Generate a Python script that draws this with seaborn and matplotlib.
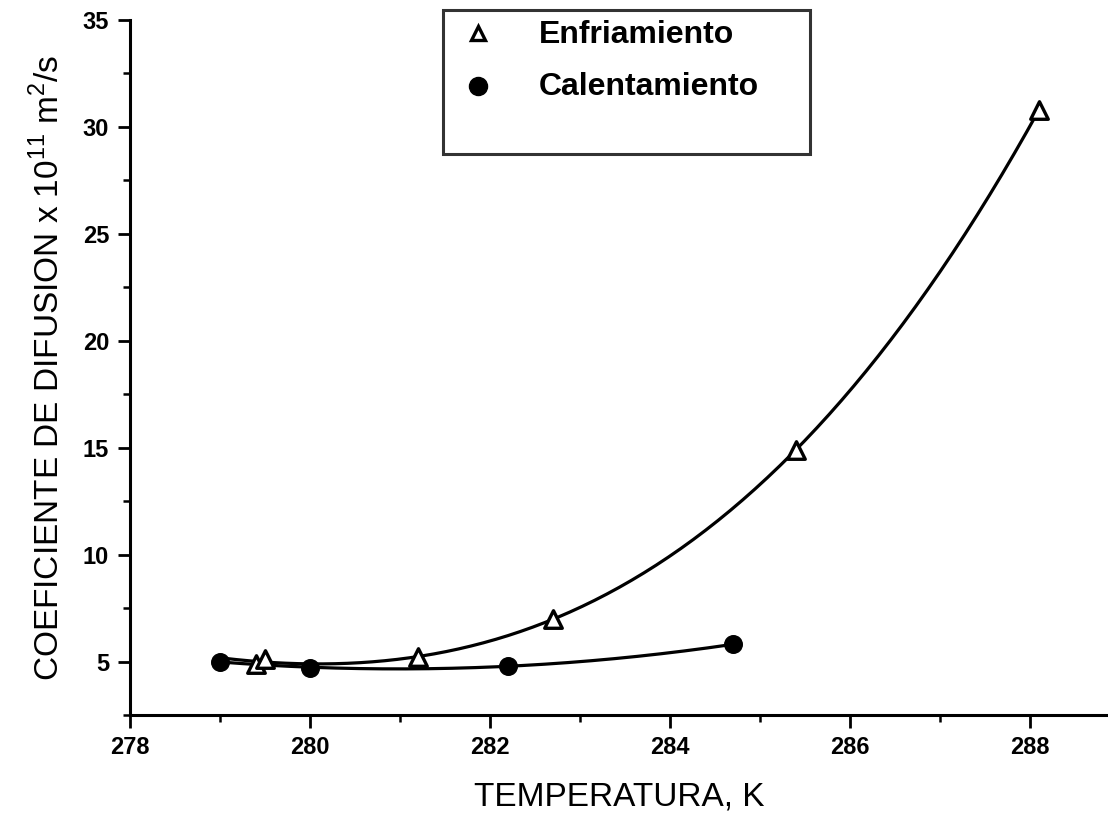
import numpy as np
import pandas as pd
import matplotlib
matplotlib.use('Agg')
import matplotlib.pyplot as plt
import seaborn as sns
from matplotlib.ticker import MultipleLocator
from matplotlib.lines import Line2D

# Enfriamiento (cooling) points
enf_temp = [279.4, 279.5, 281.2, 282.7, 285.4, 288.1]
enf_coef = [4.9, 5.1, 5.2, 7.0, 14.9, 30.8]

# Calentamiento (heating) points
cal_temp = [279.0, 280.0, 282.2, 284.7]
cal_coef = [5.0, 4.7, 4.8, 5.8]

sns.set_style('ticks')
plt.rcParams['font.family'] = ['Liberation Sans', 'DejaVu Sans']
plt.rcParams['text.color'] = 'black'
plt.rcParams['axes.labelcolor'] = 'black'
plt.rcParams['mathtext.fontset'] = 'custom'
plt.rcParams['mathtext.rm'] = 'Liberation Sans'

fig = plt.figure(figsize=(11.08, 8.26), dpi=100)
ax = fig.add_axes([130 / 1108, 1 - 715 / 826, 1 - 130 / 1108, (715 - 20) / 826])

# smooth fitted curves through the measured points
enf_fit = np.polyfit(enf_temp, enf_coef, 3)
xs_enf = np.linspace(279.0, 288.1, 200)
cal_fit = np.polyfit(cal_temp, cal_coef, 2)
xs_cal = np.linspace(279.0, 284.7, 200)

curves = pd.concat([
    pd.DataFrame({'T': xs_enf, 'D': np.polyval(enf_fit, xs_enf), 'serie': 'Enfriamiento'}),
    pd.DataFrame({'T': xs_cal, 'D': np.polyval(cal_fit, xs_cal), 'serie': 'Calentamiento'}),
])
sns.lineplot(data=curves, x='T', y='D', units='serie', estimator=None,
             color='black', linewidth=2.3, ax=ax, legend=False)

sns.scatterplot(x=cal_temp, y=cal_coef, marker='o', s=160, color='black',
                edgecolor='black', ax=ax, zorder=4)
sns.scatterplot(x=enf_temp, y=enf_coef, marker='^', s=160, facecolor='white',
                edgecolor='black', linewidth=2.4, ax=ax, zorder=5)

ax.set_xlim(278, 278 + 978 / 90)
ax.set_ylim(2.5, 35)
ax.xaxis.set_major_locator(MultipleLocator(2))
ax.xaxis.set_minor_locator(MultipleLocator(1))
ax.yaxis.set_minor_locator(MultipleLocator(2.5))
ax.set_yticks([5, 10, 15, 20, 25, 30, 35])

for side in ['top', 'right']:
    ax.spines[side].set_visible(False)
for side in ['left', 'bottom']:
    ax.spines[side].set_linewidth(2.2)
    ax.spines[side].set_color('black')

ax.tick_params(which='major', length=9, width=2, labelsize=17, colors='black', pad=6)
ax.tick_params(which='minor', length=5, width=1.8, colors='black')
for lab in ax.get_xticklabels() + ax.get_yticklabels():
    lab.set_fontweight('bold')

ax.set_xlabel('TEMPERATURA, K', fontsize=24, labelpad=16)
ax.set_ylabel('COEFICIENTE DE DIFUSION x 10$^{11}$ m$^2$/s', fontsize=24,
              labelpad=12)

handles = [
    Line2D([], [], marker='^', linestyle='none', markersize=10,
           markerfacecolor='white', markeredgecolor='black', markeredgewidth=2.4),
    Line2D([], [], marker='o', linestyle='none', markersize=13,
           markerfacecolor='black', markeredgecolor='black'),
    Line2D([], [], linestyle='none'),
]
leg = fig.legend(handles, ['Enfriamiento', 'Calentamiento', ' '],
                 loc='upper left',
                 bbox_to_anchor=(443 / 1108, 1 - 10 / 826 - 0.01, 367 / 1108, 0.01),
                 mode='expand', fontsize=23, frameon=True, fancybox=False,
                 borderpad=0.3, labelspacing=0.7, handlelength=1.6,
                 handleheight=0.3, handletextpad=1.1, borderaxespad=0)
leg.get_frame().set_edgecolor('black')
leg.get_frame().set_linewidth(2.2)
for t in leg.get_texts():
    t.set_fontweight('bold')
# blank row only pads the bottom of the box
leg.get_texts()[2].set_fontsize(8)

fig.savefig('out.png', dpi=100)
